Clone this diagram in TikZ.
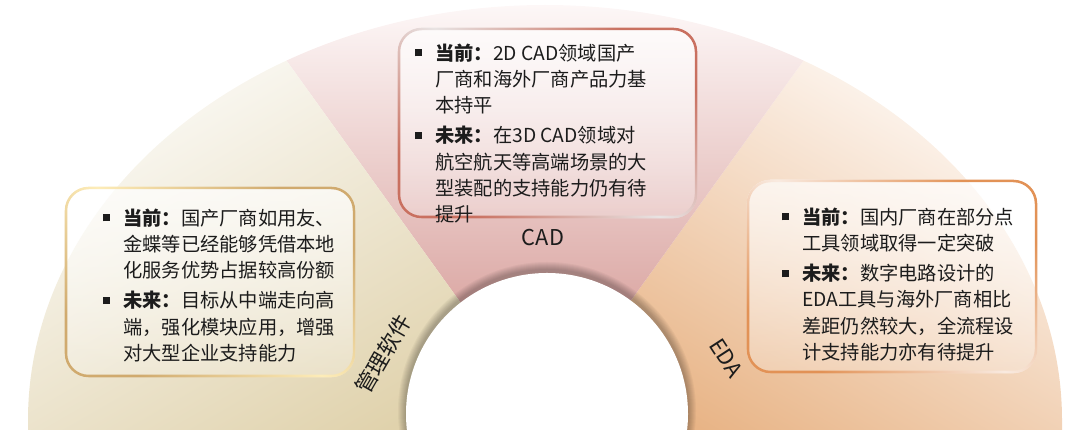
\documentclass[tikz,border=0pt]{standalone}
\usepackage{fontspec}
\setmainfont{Noto Sans CJK SC}
\usetikzlibrary{fadings}
\definecolor{mgmtlight}{RGB}{251,250,246}
\definecolor{mgmtdark}{RGB}{224,210,172}
\definecolor{cadlight}{RGB}{255,252,252}
\definecolor{caddark}{RGB}{207,139,134}
\definecolor{edalight}{RGB}{254,249,245}
\definecolor{edadark}{RGB}{232,180,134}
\definecolor{cadline}{RGB}{201,112,96}
\definecolor{cadpale}{RGB}{232,227,227}
\definecolor{mgmtline}{RGB}{208,170,110}
\definecolor{mgmtpale}{RGB}{253,236,184}
\definecolor{edaline}{RGB}{226,146,86}
\definecolor{edapale}{RGB}{249,234,224}
\definecolor{ink}{RGB}{28,28,28}
\newdimen\pxu \pxu=0.025cm
\newcommand\boxfont{\fontsize{13.7}{18.6}\selectfont}
\newcommand\bul{\makebox[14.2pt][l]{\raisebox{2.7pt}{\rule{5pt}{5pt}}}}
\newcommand\itemhead[1]{\textbf{#1：}}
\tikzfading[name=boxfade,top color=transparent!30,bottom color=transparent!78]
\tikzset{
  panel/.style={rectangle,inner sep=0pt},
  bodytext/.style={inner sep=0pt,anchor=base west,text=ink,font=\boxfont},
  seclabel/.style={inner sep=0pt,text=ink,font=\fontsize{15.5}{18}\selectfont},
  fanshadow/.style={black,opacity=0.035},
}
% translucent fill and two-tone rim of a text panel
\newcommand\panelframe[3]{%
  \fill[white,path fading=boxfade,rounded corners=17pt] (#1.north west) rectangle (#1.south east);
  \shade[even odd rule,left color=#2,right color=#2,middle color=#3,shading angle=-40]
    [rounded corners=17pt] (#1.north west) rectangle (#1.south east)
    [rounded corners=15.2pt] ([shift={(1.8pt,-1.8pt)}]#1.north west) rectangle ([shift={(-1.8pt,1.8pt)}]#1.south east);
}

\begin{document}
\begin{tikzpicture}[x=0.025cm,y=0.025cm]
  \useasboundingbox (0,0) rectangle (1080,444);
  \coordinate (fanc) at (545,24);
  \coordinate (hub) at (547,30);
  % fan
  \begin{scope}
    \clip (0,14) rectangle (1080,444);
    \shade[top color=edalight,bottom color=edadark,shading angle=-30]
      (545,14) -- (1062,14) -- (1062,24) arc[start angle=0,end angle=60,x radius=517,y radius=415] -- (fanc) -- cycle;
    \shade[top color=cadlight,bottom color=caddark]
      (fanc) -- ++(60:517 and 415) arc[start angle=60,end angle=120,x radius=517,y radius=415] -- cycle;
    \shade[top color=mgmtlight,bottom color=mgmtdark,shading angle=30]
      (fanc) -- ++(120:517 and 415) arc[start angle=120,end angle=180,x radius=517,y radius=415] -- (28,14) -- (545,14) -- cycle;
    \foreach \k in {1,...,8}
      \fill[fanshadow] ([yshift=3\pxu]hub) circle[radius=141+\k];
    \fill[white] (hub) circle[radius=141];
  \end{scope}

  \node[seclabel] (cadlabel) at (543,206) {CAD};
  \node[seclabel,rotate=60] (mgmtlabel) at (383,90) {管理软件};
  \node[seclabel,rotate=-57] (edalabel) at (726,86) {EDA};

  % panels
  \node[panel,minimum width=299\pxu,minimum height=190\pxu] (cadbox) at (547.5,321) {};
  \node[panel,minimum width=290\pxu,minimum height=190\pxu] (mgmtbox) at (210,162) {};
  \node[panel,minimum width=290\pxu,minimum height=193\pxu] (edabox) at (892,167.5) {};
  \panelframe{cadbox}{cadline}{cadpale}
  \panelframe{mgmtbox}{mgmtline}{mgmtpale}
  \panelframe{edabox}{edaline}{edapale}

  \node[bodytext] (cadtext) at (415,383.7) {\begin{tabular}[t]{@{}l@{}l@{}}
    \bul & \itemhead{当前}2D CAD领域国产\\
         & 厂商和海外厂商产品力基\\
         & 本持平\\[3pt]
    \bul & \itemhead{未来}在3D CAD领域对\\
         & 航空航天等高端场景的大\\
         & 型装配的支持能力仍有待\\
         & 提升
  \end{tabular}};
  \node[bodytext] (mgmttext) at (103,218.7) {\begin{tabular}[t]{@{}l@{}l@{}}
    \bul & \itemhead{当前}国产厂商如用友、\\
         & 金蝶等已经能够凭借本地\\
         & 化服务优势占据较高份额\\[3pt]
    \bul & \itemhead{未来}目标从中端走向高\\
         & 端，强化模块应用，增强\\
         & 对大型企业支持能力
  \end{tabular}};
  \node[bodytext] (edatext) at (782,219.7) {\begin{tabular}[t]{@{}l@{}l@{}}
    \bul & \itemhead{当前}国内厂商在部分点\\
         & 工具领域取得一定突破\\[3pt]
    \bul & \itemhead{未来}数字电路设计的\\
         & EDA工具与海外厂商相比\\
         & 差距仍然较大，全流程设\\
         & 计支持能力亦有待提升
  \end{tabular}};
\end{tikzpicture}
\end{document}
